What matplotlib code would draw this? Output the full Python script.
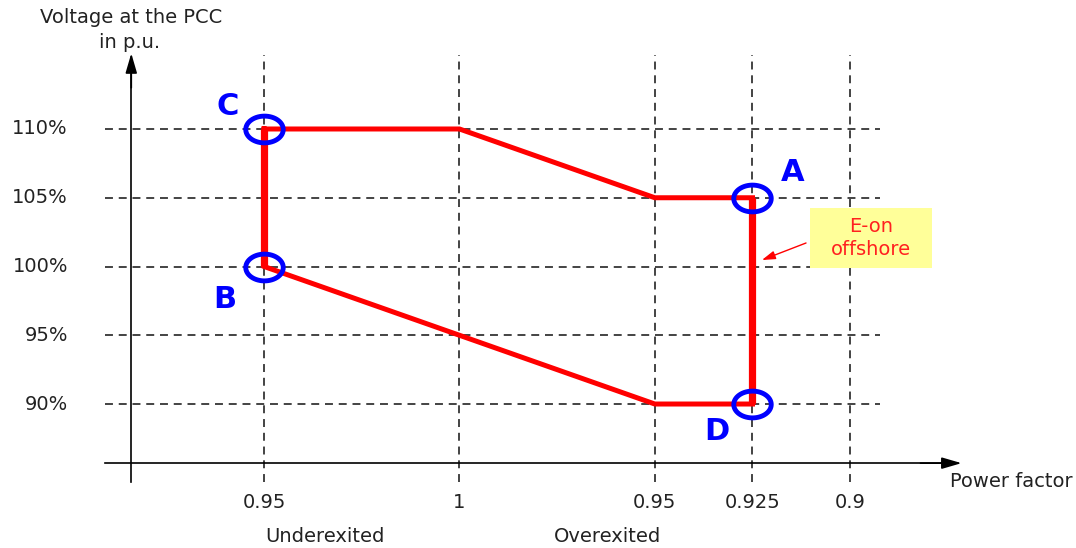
import matplotlib
matplotlib.use("Agg")
import matplotlib.pyplot as plt
from matplotlib.path import Path
from matplotlib.patches import Rectangle
import numpy as np

plt.rcParams['font.family'] = ['DejaVu Sans']

# ---- data ----
# x position = signed distance from unity power factor (under-excited negative)
x_tick_pos = [-0.05, 0.0, 0.05, 0.075, 0.1]
x_tick_labels = ["0.95", "1", "0.95", "0.925", "0.9"]
y_ticks = [90, 95, 100, 105, 110]
y_tick_labels = ["90%", "95%", "100%", "105%", "110%"]

# operating envelope (closed polygon, starting at C)
env_x = [-0.05, 0.0, 0.05, 0.075, 0.075, 0.05, 0.0, -0.05, -0.05]
env_y = [110, 110, 105, 105, 90, 90, 95, 100, 110]

point_names = ["A", "B", "C", "D"]
point_x = [0.075, -0.05, -0.05, 0.075]
point_y = [105, 100, 110, 90]

# ---- figure ----
fig = plt.figure(figsize=(10.76, 5.48), dpi=100)
ax = fig.add_axes([0, 0, 1, 1])
ax.set_xlim(-0.1176, 0.1578)
ax.set_ylim(79.53, 119.38)
ax.axis('off')

text_col = '#222222'
x_axis_y = 85.7
y_axis_x = -0.084
grid_kw = dict(color='#111111', lw=1.1, dashes=(5.2, 3.8), zorder=1)
for xp in x_tick_pos:
    ax.plot([xp, xp], [84.33, 115.4], **grid_kw)
for yp in y_ticks:
    ax.plot([-0.0907, 0.1077], [yp, yp], **grid_kw)

# axes with arrows
ax.plot([-0.0907, 0.124], [x_axis_y, x_axis_y], color='black', lw=1.2, zorder=2)
ax.plot([y_axis_x, y_axis_x], [84.3, 114.2], color='black', lw=1.2, zorder=2)
ax.annotate('', xy=(0.1285, x_axis_y), xytext=(0.118, x_axis_y),
            arrowprops=dict(arrowstyle='-|>,head_length=1.2,head_width=0.35',
                            color='black', lw=1.2, shrinkA=0, shrinkB=0), zorder=2)
ax.annotate('', xy=(y_axis_x, 115.5), xytext=(y_axis_x, 113.0),
            arrowprops=dict(arrowstyle='-|>,head_length=1.2,head_width=0.35',
                            color='black', lw=1.2, shrinkA=0, shrinkB=0), zorder=2)

# envelope
ax.plot(env_x, env_y, color='#ff0000', lw=3.6, solid_joinstyle='miter', zorder=3)
for i in range(len(env_x) - 1):
    if env_x[i] == env_x[i + 1]:
        ax.plot(env_x[i:i + 2], env_y[i:i + 2], color='#ff0000', lw=5.2,
                solid_capstyle='butt', zorder=3)

# ellipse markers
t = np.linspace(0, 2 * np.pi, 60)
ell = Path(np.column_stack([1.4 * np.cos(t), np.sin(t)]), closed=True)
ax.plot(point_x, point_y, linestyle='none', marker=ell, markersize=27,
        markerfacecolor='none', markeredgecolor='#0000ff', markeredgewidth=3.5, zorder=4)

label_offsets = {"A": (29, 18), "B": (-28, -24), "C": (-26, 16), "D": (-26, -20)}
for n, px, py in zip(point_names, point_x, point_y):
    ax.annotate(n, (px, py), xytext=label_offsets[n], textcoords='offset points',
                ha='center', va='center', color='#0000ff', fontsize=22,
                fontweight='bold', zorder=5)

# tick labels
for xp, lab in zip(x_tick_pos, x_tick_labels):
    ax.text(xp, 82.87, lab, ha='center', va='center', fontsize=14, color=text_col)
for yp, lab in zip(y_ticks, y_tick_labels):
    ax.text(-0.1002, yp, lab, ha='right', va='center', fontsize=14, color=text_col)

ax.text(-0.084, 118.1, "Voltage at the PCC", ha='center', va='center',
        fontsize=14, color=text_col)
ax.text(-0.0845, 116.3, "in p.u.", ha='center', va='center', fontsize=14, color=text_col)
ax.text(0.157, 84.33, "Power factor", ha='right', va='center', fontsize=14, color=text_col)
ax.text(-0.0344, 80.33, "Underexited", ha='center', va='center', fontsize=14, color=text_col)
ax.text(0.0378, 80.33, "Overexited", ha='center', va='center', fontsize=14, color=text_col)

# annotation box
ax.add_patch(Rectangle((0.0897, 99.89), 0.1209 - 0.0897, 104.25 - 99.89,
                       facecolor='#ffff99', edgecolor='none', zorder=5))
ax.text(0.1053, 102.07, "E-on\noffshore", ha='center', va='center', fontsize=14,
        color='#ff2020', linespacing=1.25, zorder=6)
ax.annotate('', xy=(0.0774, 100.47), xytext=(0.0887, 101.71),
            arrowprops=dict(arrowstyle='-|>,head_length=0.8,head_width=0.25',
                            color='#ff0000', lw=1.0, shrinkA=0, shrinkB=0),
            zorder=5)

fig.savefig("out.png", dpi=100)
